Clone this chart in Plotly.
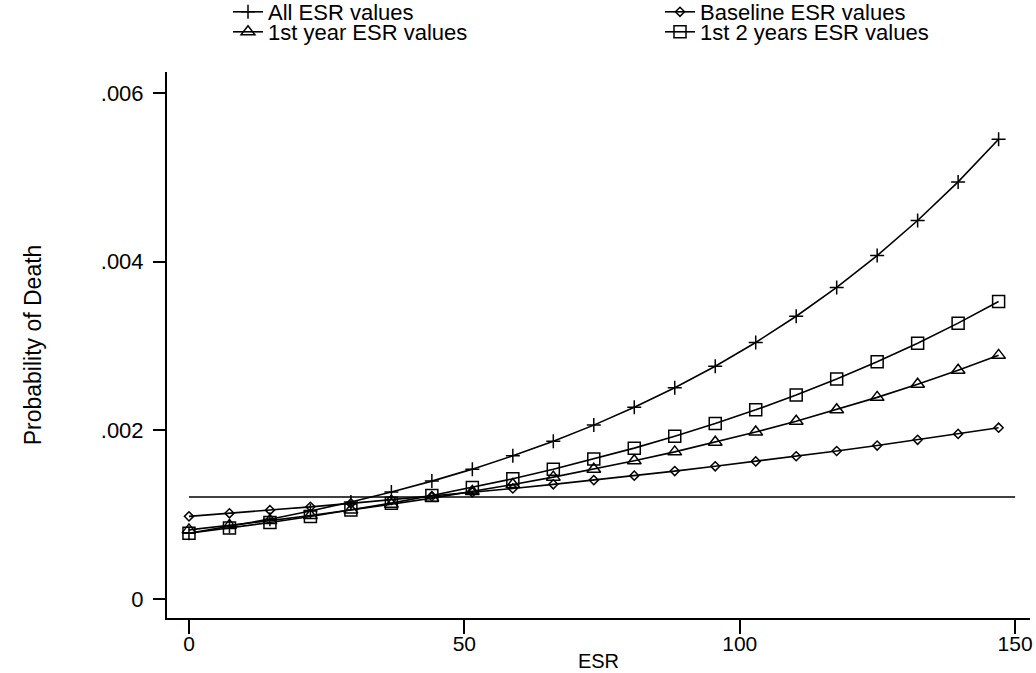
import plotly.graph_objects as go

esr = [0, 7.35, 14.7, 22.05, 29.4, 36.75, 44.1, 51.45, 58.8, 66.15, 73.5,
       80.85, 88.2, 95.55, 102.9, 110.25, 117.6, 124.95, 132.3, 139.65, 147]

all_esr = [0.00078, 0.000860, 0.000947, 0.001044, 0.001151, 0.001268, 0.001398,
           0.001540, 0.001698, 0.001871, 0.002062, 0.002273, 0.002505, 0.002760,
           0.003042, 0.003353, 0.003695, 0.004072, 0.004488, 0.004946, 0.005451]
baseline_esr = [0.00098, 0.001016, 0.001054, 0.001093, 0.001134, 0.001176, 0.001219,
                0.001265, 0.001311, 0.00136, 0.00141, 0.001463, 0.001517, 0.001574,
                0.001632, 0.001693, 0.001755, 0.00182, 0.001888, 0.001958, 0.002031]
year1_esr = [0.00082, 0.000873, 0.00093, 0.00099, 0.001055, 0.001123, 0.001196,
             0.001274, 0.001357, 0.001445, 0.001539, 0.001639, 0.001745, 0.001859,
             0.00198, 0.002108, 0.002245, 0.002391, 0.002547, 0.002712, 0.002889]
years2_esr = [0.00078, 0.000841, 0.000907, 0.000978, 0.001055, 0.001137, 0.001227,
              0.001323, 0.001426, 0.001538, 0.001659, 0.001789, 0.001929, 0.00208,
              0.002243, 0.002419, 0.002608, 0.002813, 0.003033, 0.003271, 0.003527]

ref_x = [0, 150]
ref_y = [0.00121, 0.00121]

series = [
    ("All ESR values", all_esr, "cross-thin", 10, "legend"),
    ("Baseline ESR values", baseline_esr, "diamond-open", 7, "legend2"),
    ("1st year ESR values", year1_esr, "triangle-up-open", 12, "legend3"),
    ("1st 2 years ESR values", years2_esr, "square-open", 12, "legend4"),
]

fig = go.Figure()
fig.add_trace(go.Scatter(x=ref_x, y=ref_y, mode="lines", showlegend=False,
                         line=dict(color="black", width=1.5), hoverinfo="skip"))
for name, ys, sym, sz, lg in series:
    fig.add_trace(go.Scatter(
        x=esr, y=ys, name=name, mode="lines+markers", legend=lg,
        line=dict(color="black", width=1.6),
        marker=dict(symbol=sym, size=sz, color="black",
                    line=dict(color="black", width=1.5)),
    ))

font = "Liberation Sans, Arial, sans-serif"
W, H = 1036, 673
ML, MR, MT, MB = 167, 6, 72, 55
PH = H - MT - MB


def leg(xpx, top_px):
    return dict(x=(xpx - ML) / (W - ML - MR), y=1 + (MT - top_px) / PH,
                xref="paper", yref="paper",
                xanchor="left", yanchor="top", orientation="v",
                font=dict(size=22), bgcolor="rgba(0,0,0,0)", borderwidth=0)


fig.update_layout(
    width=W, height=H,
    margin=dict(l=ML, r=MR, t=MT, b=MB, autoexpand=False),
    paper_bgcolor="white", plot_bgcolor="white",
    font=dict(family=font, size=21, color="black"),
    showlegend=True,
    legend=leg(228, -9),
    legend2=leg(660, -9),
    legend3=leg(228, 11),
    legend4=leg(660, 11),
    xaxis=dict(range=[-3.99, 152.7], tickvals=[0, 50, 100, 150],
               ticktext=["0", "50", "100", "150"],
               showgrid=False, zeroline=False, showline=True,
               linecolor="black", linewidth=2, ticks="outside", ticklen=14,
               tickwidth=1.5, tickcolor="black", ticklabelstandoff=-8,
               tickfont=dict(size=21),
               title=dict(text="ESR", standoff=0, font=dict(size=20))),
    yaxis=dict(range=[-0.000225, 0.006249], tickvals=[0, 0.002, 0.004, 0.006],
               ticktext=["0", ".002", ".004", ".006"],
               showgrid=False, zeroline=False, showline=True,
               linecolor="black", linewidth=2, ticks="outside", ticklen=12,
               tickwidth=1.5, tickcolor="black", ticklabelstandoff=5,
               tickfont=dict(size=22),
               title=dict(text="Probability of Death", standoff=53,
                          font=dict(size=23))),
)

fig.write_html("out.html", post_script="document.body.style.margin='0';",
               config={"displayModeBar": False})
